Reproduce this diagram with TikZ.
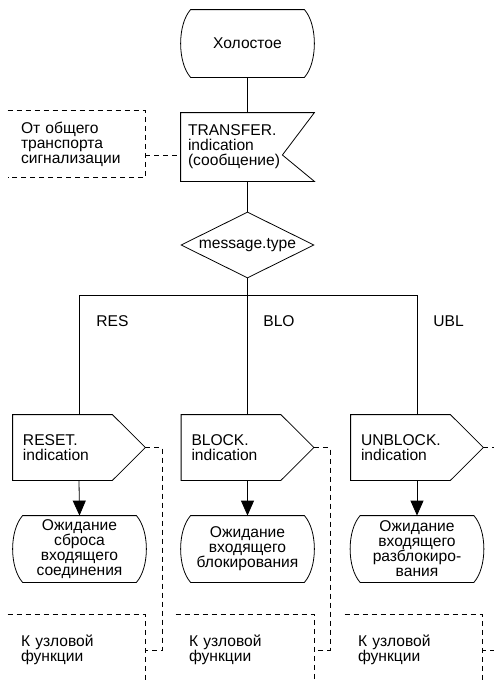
\documentclass[tikz,border=0pt]{standalone}
\usepackage{fontspec}
\setmainfont{Liberation Sans}
\usetikzlibrary{arrows.meta,shapes.geometric}

% outlines drawn round named nodes
\newcommand\stateshape[1]{%
  \draw ([xshift=10pt]#1.north west) -- ([xshift=-10pt]#1.north east)
    .. controls ([xshift=3.3pt,yshift=-15pt]#1.north east) and ([xshift=3.3pt,yshift=15pt]#1.south east) .. ([xshift=-10pt]#1.south east)
    -- ([xshift=10pt]#1.south west)
    .. controls ([xshift=-3.3pt,yshift=15pt]#1.south west) and ([xshift=-3.3pt,yshift=-15pt]#1.north west) .. ([xshift=10pt]#1.north west) -- cycle;}
\newcommand\inshape[1]{%
  \coordinate (#1-in) at ([xshift=-32pt,yshift=-8pt]#1.east);
  \draw (#1.north west) -- (#1.north east) -- (#1-in) -- (#1.south east) -- (#1.south west) -- cycle;}
\newcommand\outshape[1]{%
  \draw (#1.north west) -- ([xshift=-33pt]#1.north east) -- (#1.east) -- ([xshift=-33pt]#1.south east) -- (#1.south west) -- cycle;}
\newcommand\noteshape[1]{%
  \draw[notedash] (#1.north west) -- (#1.north east) -- (#1.south east) -- (#1.south west);}

\begin{document}
\begin{tikzpicture}[x=1pt,y=-1pt,line width=0.8pt,
  every node/.style={font=\fontsize{15.6pt}{15pt}\selectfont, inner sep=0pt},
  statebox/.style={minimum width=133pt, minimum height=66pt, align=center},
  inbox/.style={minimum width=133pt, minimum height=68pt, text width=119pt, inner xsep=7pt, align=left},
  outbox/.style={minimum width=132pt, minimum height=65pt, text width=112pt, inner xsep=10pt, align=left},
  notebox/.style={minimum width=137pt, text width=111pt, inner xsep=13pt, align=left},
  notedash/.style={dash pattern=on 5pt off 4pt},
  flow/.style={-{Triangle[length=15pt,width=13pt]}}]
  \useasboundingbox (0,0) rectangle (494,680);

  \node[statebox, minimum height=67pt] (idle) at (247.5,43.5) {Холостое};
  \node[inbox] (transfer) at (247.5,147) {TRANSFER.\\indication\\(сообщение)};
  \node[notebox, minimum height=66pt] (tcom) at (76.5,144) {От общего\\транспорта\\сигнализации};
  \node[diamond, draw, aspect=2, minimum width=133pt, minimum height=66pt] (msg) at (247.5,245) {message.type};
  \coordinate (bus) at (247.5,295);

  \node[anchor=base west] (res) at (96,326) {RES};
  \node[anchor=base west] (blo) at (263,326) {BLO};
  \node[anchor=base west] (ubl) at (433,326) {UBL};

  \node[outbox] (reset) at (79,447.5) {RESET.\\indication};
  \node[outbox] (block) at (247.5,447.5) {BLOCK.\\indication};
  \node[outbox] (unblock) at (417,447.5) {UNBLOCK.\\indication};

  \node[statebox] (st1) at (79.5,549) {Ожидание\\сброса\\входящего\\соединения};
  \node[statebox] (st2) at (247.5,549) {Ожидание\\входящего\\блокирования};
  \node[statebox] (st3) at (417,549) {Ожидание\\входящего\\разблокиро-\\вания};

  \node[notebox, minimum height=70pt] (kf1) at (76.5,650) {К узловой\\функции};
  \node[notebox, minimum height=70pt, minimum width=138pt, text width=112pt] (kf2) at (245,650) {К узловой\\функции};
  \node[notebox, minimum height=70pt] (kf3) at (413.5,650) {К узловой\\функции};

  \stateshape{idle} \inshape{transfer} \noteshape{tcom}
  \outshape{reset} \outshape{block} \outshape{unblock}
  \stateshape{st1} \stateshape{st2} \stateshape{st3}
  \noteshape{kf1} \noteshape{kf2} \noteshape{kf3}

  \draw (idle.south) -- (transfer.north);
  \draw[notedash] (tcom.east |- transfer-in) -- (transfer.west |- transfer-in);
  \draw (transfer.south) -- (msg.north);
  \draw (msg.south) -- (bus);
  \draw (bus -| reset.north) -- (bus -| unblock.north);
  \draw (bus -| reset.north) -- (reset.north);
  \draw (bus) -- (block.north);
  \draw (bus -| unblock.north) -- (unblock.north);

  \draw[flow] (reset.south) -- (st1.north);
  \draw[flow] (block.south) -- (st2.north);
  \draw[flow] (unblock.south) -- (st3.north);

  \draw[notedash] (reset.east) -- ++(17,0) |- (kf1.east);
  \draw[notedash] (block.east) -- ++(16,0) |- (kf2.east);
  \draw[notedash] (unblock.east) -- ++(17,0) |- (kf3.east);
\end{tikzpicture}
\end{document}
